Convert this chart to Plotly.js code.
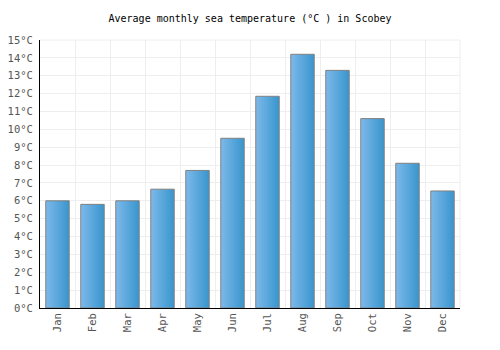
<!DOCTYPE html>
<html>
<head>
<meta charset="utf-8">
<script src="https://cdn.plot.ly/plotly-3.0.1.min.js"></script>
<style>html,body{margin:0;padding:0;background:#fff;}#chart{width:500px;height:350px;}</style>
</head>
<body>
<div id="chart"></div>
<script>
const months = ["Jan","Feb","Mar","Apr","May","Jun","Jul","Aug","Sep","Oct","Nov","Dec"];
const seaTemp = [6.0, 5.8, 6.0, 6.65, 7.7, 9.5, 11.85, 14.2, 13.3, 10.6, 8.1, 6.55];
const yTicks = [0,1,2,3,4,5,6,7,8,9,10,11,12,13,14,15];
const yTickText = yTicks.map(v => v + "°C");

const font = "DejaVu Sans Mono, monospace";

const trace = {
  type: "bar",
  x: months,
  y: seaTemp,
  width: 0.67,
  marker: { color: "#5aaae0", line: { color: "#808080", width: 1 } },
  hoverinfo: "x+y"
};

const layout = {
  width: 500, height: 350,
  margin: { l: 40, r: 40, t: 40, b: 42 },
  paper_bgcolor: "#fff", plot_bgcolor: "#fff",
  title: { text: "Average monthly sea temperature (°C ) in Scobey", font: { family: font, size: 10, color: "#000" }, x: 0.5, xanchor: "center", y: 0.946, yanchor: "middle" },
  showlegend: false,
  xaxis: {
    type: "category",
    tickson: "boundaries",
    ticks: "",
    showgrid: true, gridcolor: "#eeeeee", gridwidth: 1,
    showline: true, linecolor: "#000", linewidth: 1,
    tickangle: -90,
    tickfont: { family: font, size: 10.5, color: "#555" },
    zeroline: false
  },
  yaxis: {
    range: [0, 15],
    tickvals: yTicks,
    ticktext: yTickText,
    ticks: "",
    showgrid: true, gridcolor: "#eeeeee", gridwidth: 1,
    showline: true, linecolor: "#000", linewidth: 1,
    tickfont: { family: font, size: 10.5, color: "#555" },
    zeroline: false,
    ticklabelstandoff: 4
  },
  shapes: [
    { type: "line", xref: "paper", yref: "paper", x0: 1, x1: 1, y0: 0, y1: 1, line: { color: "#eeeeee", width: 1 }, layer: "below" },
    { type: "line", xref: "paper", yref: "paper", x0: 0, x1: 1, y0: 1, y1: 1, line: { color: "#eeeeee", width: 1 }, layer: "below" }
  ]
};

function applyGradient(gd) {
  const svg = gd.querySelector("svg.main-svg");
  if (!svg) return;
  let defs = svg.querySelector("defs");
  if (!defs) { defs = document.createElementNS("http://www.w3.org/2000/svg", "defs"); svg.insertBefore(defs, svg.firstChild); }
  if (!svg.querySelector("#barGrad")) {
    const g = document.createElementNS("http://www.w3.org/2000/svg", "linearGradient");
    g.setAttribute("id", "barGrad");
    g.setAttribute("x1", "0"); g.setAttribute("y1", "0"); g.setAttribute("x2", "1"); g.setAttribute("y2", "0");
    [["0%", "#7db9ea"], ["100%", "#3895cd"]].forEach(([o, c]) => {
      const s = document.createElementNS("http://www.w3.org/2000/svg", "stop");
      s.setAttribute("offset", o); s.setAttribute("stop-color", c);
      g.appendChild(s);
    });
    defs.appendChild(g);
  }
  gd.querySelectorAll(".barlayer .point path").forEach(p => { p.style.fill = "url(#barGrad)"; });
}

Plotly.newPlot("chart", [trace], layout, { displayModeBar: false, staticPlot: true }).then(gd => {
  applyGradient(gd);
  gd.on("plotly_afterplot", () => applyGradient(gd));
});
</script>
</body>
</html>
